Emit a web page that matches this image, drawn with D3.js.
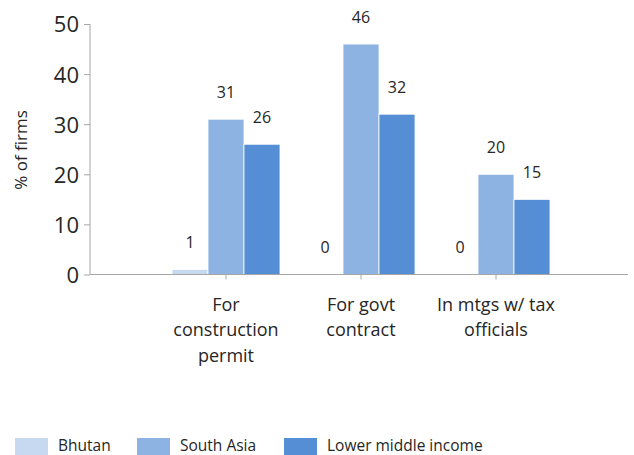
<!DOCTYPE html>
<html>
<head>
<meta charset="utf-8">
<script src="https://cdn.jsdelivr.net/npm/d3@7"></script>
<style>
  html, body { margin: 0; padding: 0; background: #fff; }
  svg { display: block; font-family: "Open Sans", sans-serif; }
</style>
</head>
<body>
<svg id="chart" width="634" height="455"></svg>
<script>
const categories = [["For", "construction", "permit"], ["For govt", "contract"], ["In mtgs w/ tax", "officials"]];
const categoryKeys = ["construction", "govt", "tax"];
const seriesNames = ["Bhutan", "South Asia", "Lower middle income"];
const bhutan = [1, 0, 0];
const southAsia = [31, 46, 20];
const lowerMiddle = [26, 32, 15];
const yTicks = [0, 10, 20, 30, 40, 50];
const colors = ["#c6d9f1", "#8db3e2", "#558ed5"];

const seriesValues = [bhutan, southAsia, lowerMiddle];
const svg = d3.select("#chart");
const textColor = "#262626";
const axisColor = "#a6a6a6";

const plotLeft = 90, plotRight = 628;
const y = d3.scaleLinear().domain([0, 50]).range([274.5, 24]);
const x0 = d3.scaleBand().domain(categoryKeys).range([158.5, 563.5]).paddingInner(0.2).paddingOuter(0.1);
const x1 = d3.scaleBand().domain(seriesNames).range([0, x0.bandwidth()]).padding(0);

// bars
categoryKeys.forEach((cat, ci) => {
  const g = svg.append("g").attr("transform", `translate(${x0(cat)},0)`);
  seriesNames.forEach((s, si) => {
    const v = seriesValues[si][ci];
    g.append("rect")
      .attr("x", x1(s))
      .attr("y", y(v))
      .attr("width", x1.bandwidth())
      .attr("height", y(0) - y(v))
      .attr("fill", colors[si])
      .attr("stroke", "#fff")
      .attr("stroke-width", 0.8);
    g.append("text")
      .attr("x", x1(s) + x1.bandwidth() / 2)
      .attr("y", y(v) - 21.5)
      .attr("text-anchor", "middle")
      .attr("font-size", 16)
      .attr("fill", textColor)
      .text(v);
  });
});

// y axis
const yAxis = d3.axisLeft(y).tickValues(yTicks).tickSize(6).tickPadding(5);
const gy = svg.append("g").attr("transform", `translate(${plotLeft},0)`).call(yAxis);
gy.select(".domain").attr("stroke", axisColor).attr("d", `M0,${y(0)}V${y(50)}`);
gy.selectAll(".tick line").attr("stroke", axisColor);
gy.selectAll(".tick text").attr("font-size", 22).attr("fill", textColor).attr("font-family", "Open Sans, sans-serif").attr("dy", "0.36em");

// x axis line
svg.append("line").attr("x1", plotLeft).attr("x2", plotRight).attr("y1", y(0)).attr("y2", y(0)).attr("stroke", axisColor);
categoryKeys.forEach(cat => {
  const cx = x0(cat) + x0.bandwidth() / 2;
  svg.append("line").attr("x1", cx).attr("x2", cx).attr("y1", y(0)).attr("y2", y(0) + 5).attr("stroke", axisColor);
});

// category labels
categoryKeys.forEach((cat, ci) => {
  const cx = x0(cat) + x0.bandwidth() / 2;
  const t = svg.append("text").attr("text-anchor", "middle").attr("font-size", 18).attr("fill", textColor);
  categories[ci].forEach((line, li) => {
    t.append("tspan").attr("x", cx).attr("y", 310.5 + li * 25.5).text(line);
  });
});

// y title
svg.append("text")
  .attr("transform", "translate(27,150) rotate(-90)")
  .attr("text-anchor", "middle")
  .attr("font-size", 17)
  .attr("fill", textColor)
  .text("% of firms");

// legend
const legendX = [15, 137, 284];
seriesNames.forEach((s, i) => {
  svg.append("rect").attr("x", legendX[i]).attr("y", 438).attr("width", 33).attr("height", 20).attr("fill", colors[i]);
  svg.append("text").attr("x", legendX[i] + 43).attr("y", 451).attr("font-size", 15.5).attr("fill", textColor).text(s);
});
</script>
</body>
</html>
